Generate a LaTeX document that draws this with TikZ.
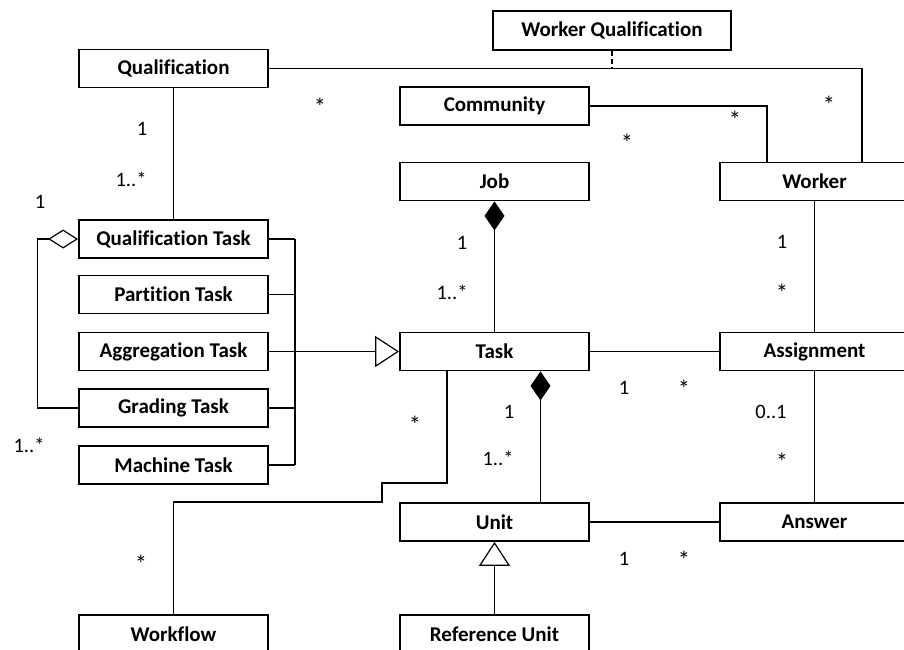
\documentclass[tikz,border=0pt]{standalone}
\usepackage{fontspec}
\setmainfont{Carlito}[Ligatures={NoCommon}]
\usetikzlibrary{arrows.meta}
\tikzset{
  umlbox/.style={draw, line width=1.8pt, minimum width=189pt, minimum height=38pt, inner sep=0pt,
    font=\fontsize{21}{25}\selectfont\bfseries},
  conn/.style={line width=1.2pt},
  mult/.style={inner sep=0pt, font=\fontsize{20.5}{24}\selectfont},
  star/.style={inner sep=0pt, font=\fontsize{24.5}{28}\selectfont, yshift=-4.3pt},
  comp/.style={{Diamond[length=29pt,width=20pt]}-},
  aggr/.style={{Diamond[open,length=30pt,width=19pt]}-},
  gen/.style={-{Triangle[open,length=24pt,width=31pt]}}
}
\begin{document}
\begin{tikzpicture}[x=1pt,y=-1pt]
\useasboundingbox (0,0) rectangle (904,649);
\clip (0,0) rectangle (904,649);
% boxes
\node[umlbox] (qual) at (173.5,68.5) {Qualification};
\node[umlbox, minimum width=238pt, minimum height=39pt] (wq) at (612,30.5) {Worker Qualification};
\node[umlbox] (comm) at (494.5,106) {Community};
\node[umlbox] (job) at (494.5,181.5) {Job};
\node[umlbox] (worker) at (814.5,181.5) {Worker};
\node[umlbox] (qt) at (173.5,239) {Qualification Task};
\node[umlbox] (pt) at (173.5,294.5) {Partition Task};
\node[umlbox] (at) at (173.5,351.5) {Aggregation Task};
\node[umlbox] (gt) at (173.5,408) {Grading Task};
\node[umlbox] (mt) at (173.5,465) {Machine Task};
\node[umlbox] (task) at (494.5,351.5) {Task};
\node[umlbox] (asg) at (814.5,351.5) {Assignment};
\node[umlbox] (unit) at (494.5,522) {Unit};
\node[umlbox] (ans) at (814.5,522) {Answer};
\node[umlbox] (wf) at (173.5,634) {Workflow};
\node[umlbox] (ru) at (494.5,634) {Reference Unit};
% helper coordinates
\coordinate (busT) at (295,239);
\coordinate (busB) at (295,465);
\coordinate (wfa) at (382,483);
\coordinate (wfb) at (382,502);
% connectors
\draw[conn] (qual.east) -| ([xshift=47.5pt]worker.north);
\draw[conn, dash pattern=on 5pt off 3pt] (wq.south) -- (wq.south |- qual.east);
\draw[conn] (comm.east) -| ([xshift=-47.5pt]worker.north);
\draw[conn] (worker.south) -- (asg.north);
\draw[conn] (asg.south) -- (ans.north);
\draw[conn, comp] (job.south) -- (task.north);
\draw[conn, comp] ([xshift=46pt]task.south) -- ([xshift=46pt]unit.north);
\draw[conn] (task.east) -- (asg.west);
\draw[conn] (unit.east) -- (ans.west);
\draw[conn, gen] (at.east) -- (task.west);
\draw[conn] (busT) -- (busB);
\draw[conn] (qt.east) -- (busT);
\draw[conn] (pt.east) -- (pt.east -| busT);
\draw[conn] (gt.east) -- (gt.east -| busT);
\draw[conn] (mt.east) -- (busB);
\draw[conn, aggr] (qt.west) -- ++(-41,0) |- (gt.west);
\draw[conn] (qual.south) -- (qt.north);
\draw[conn, gen] (ru.north) -- (unit.south);
\draw[conn] ([xshift=-47.5pt]task.south) |- (wfa) -- (wfb) -| (wf.north);
% multiplicities
\node[mult] (m1) at (142,129) {1};
\node[mult] (m2) at (131,179) {1..*};
\node[mult] (m3) at (40,202) {1};
\node[star] (m4) at (320,102) {*};
\node[star] (m5) at (627,138) {*};
\node[star] (m6) at (735,115) {*};
\node[star] (m7) at (829,100) {*};
\node[mult] (m8) at (462,243) {1};
\node[mult] (m9) at (452,292) {1..*};
\node[mult] (m10) at (782,242) {1};
\node[star] (m11) at (782,288) {*};
\node[mult] (m12) at (624,388) {1};
\node[star] (m13) at (684,384) {*};
\node[mult] (m14) at (509,412) {1};
\node[mult] (m15) at (498,458) {1..*};
\node[mult] (m16) at (771,412) {0..1};
\node[star] (m17) at (782,457) {*};
\node[mult] (m18) at (624,559) {1};
\node[star] (m19) at (684,555) {*};
\node[star] (m20) at (141,559) {*};
\node[star] (m21) at (415,420) {*};
\node[mult] (m22) at (29,445) {1..*};
\end{tikzpicture}
\end{document}
